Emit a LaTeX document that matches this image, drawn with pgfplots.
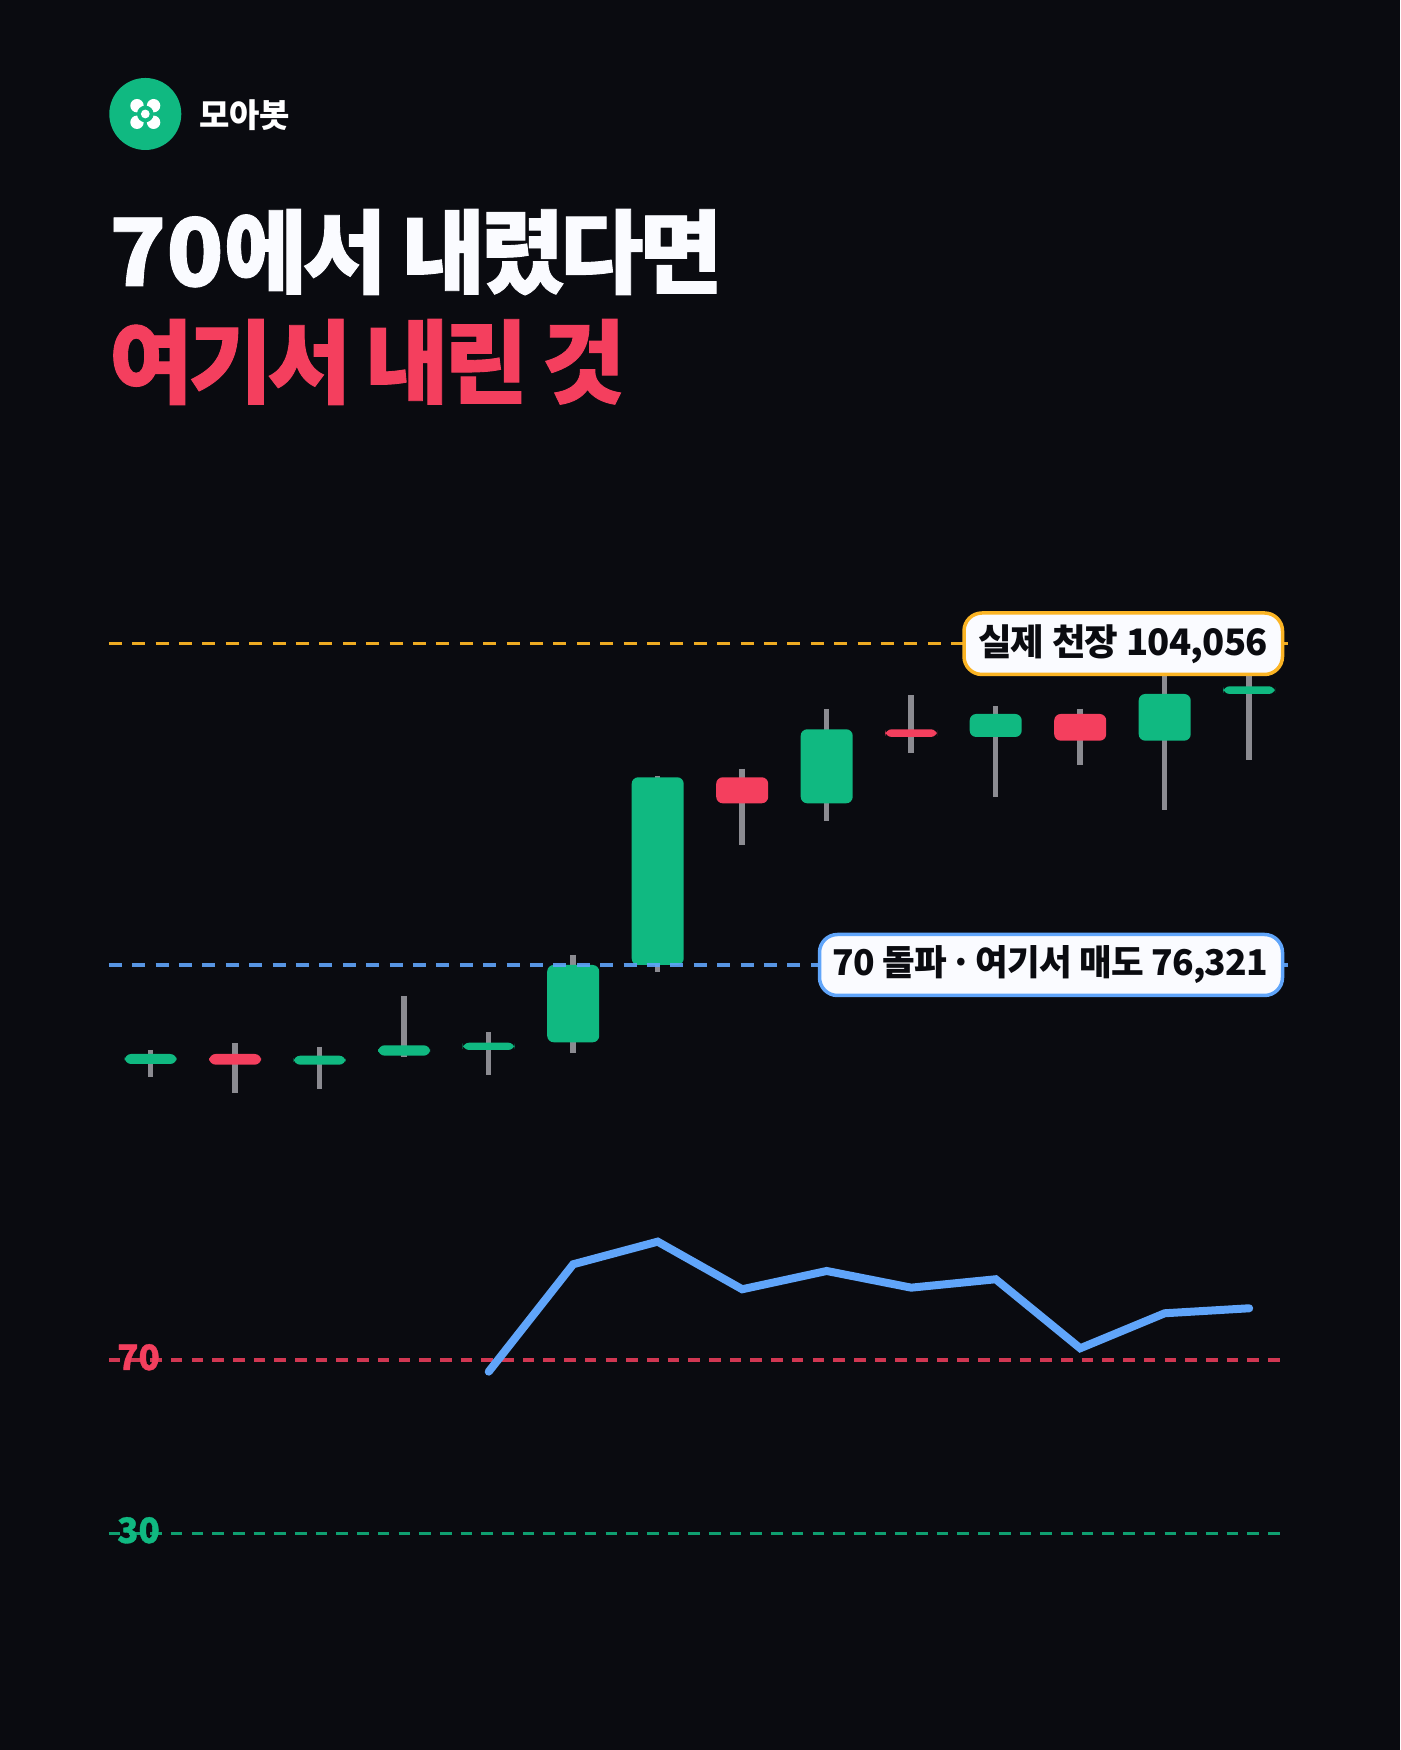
\documentclass[border=0pt]{standalone}
\usepackage{fontspec}
\usepackage{pgfplots}
\pgfplotsset{compat=1.18}
\setmainfont{Noto Sans CJK KR}
\newfontfamily\titlefont[LetterSpace=-5,WordSpace=0.7,BoldFeatures={FakeBold=1}]{Noto Sans CJK KR}
\newfontfamily\titlefontb[LetterSpace=-5,WordSpace=0.92,BoldFeatures={FakeBold=1}]{Noto Sans CJK KR}
\newfontfamily\digitfont[BoldFeatures={FakeBold=1}]{Noto Sans CJK KR}
\newfontfamily\labelfont[LetterSpace=-2]{Noto Sans CJK KR}
\newfontfamily\levelfont[BoldFeatures={FakeBold=1}]{Noto Sans CJK KR}
\definecolor{bg}{HTML}{0A0B10}
\definecolor{up}{HTML}{10B981}
\definecolor{down}{HTML}{F43F5E}
\definecolor{wick}{HTML}{8B8B91}
\definecolor{sky}{HTML}{60A5FA}
\definecolor{amber}{HTML}{FBB424}
\definecolor{paper}{HTML}{FAFBFF}
\pgfplotsset{page/.style={at={(0pt,0pt)},anchor=south west,scale only axis,width=1400pt,height=1750pt,hide axis,
  xmin=-1.7834,xmax=14.7846,clip=false}}
% i, left, right, body top, body bottom, high, low, colour
\newcommand{\candle}[8]{%
  \addplot[wick,line width=5.5pt,line cap=butt,forget plot] coordinates {(#1,#6) (#1,#7)};
  \addplot[#8,fill=#8,draw=none,rounded corners=6.5pt,forget plot] coordinates {(#1,#4) (#3,#4) (#3,#5) (#2,#5) (#2,#4) (#1,#4)};
}
\begin{document}
\begin{tikzpicture}
\useasboundingbox (0pt,0pt) rectangle (1400pt,1750pt);
\fill[bg] (0pt,0pt) rectangle (1400pt,1750pt);
% logo
\fill[up] (145.3pt,1636pt) circle (36pt);
\foreach \sx in {-1,1}{\foreach \sy in {-1,1}{\fill[white] (145.3pt+\sx*8.3pt,1636pt+\sy*8.3pt) circle (6.7pt);}}
\fill[up] (145.3pt,1636pt) circle (8.3pt);
\fill[white] (145.3pt,1636pt) circle (4.4pt);
\node[anchor=base west,inner sep=0pt,text=white] at (199pt,1622pt) {\fontsize{33}{33}\selectfont\bfseries 모아봇};
% title
\node[anchor=base west,inner sep=0pt,text=paper] at (109pt,1464pt) {\fontsize{94}{94}\digitfont\bfseries 70\fontsize{91}{91}\titlefont\bfseries 에서 내렸다면};
\node[anchor=base west,inner sep=0pt,text=down] at (109pt,1354pt) {\fontsize{91}{91}\titlefontb\bfseries 여기서 내린 것};
% RSI level labels
\node[anchor=base west,inner sep=0pt,text=down] at (117pt,380pt) {\fontsize{35}{35}\levelfont\bfseries 70};
\node[anchor=base west,inner sep=0pt,text=up] at (117pt,207pt) {\fontsize{35}{35}\levelfont\bfseries 30};
% price panel
\begin{axis}[page,ymin=8646.15,ymax=159513.65]
\candle{0}{-0.3077}{0.3077}{68648}{67786}{68993}{66691}{up}
\candle{1}{0.6923}{1.3077}{68648}{67726}{69571}{65260}{down}
\candle{2}{1.6923}{2.3077}{68502}{67726}{69278}{65605}{up}
\candle{3}{2.6923}{3.3077}{69398}{68502}{73648}{68416}{up}
\candle{4}{3.6923}{4.3077}{69623}{68993}{70519}{66838}{up}
\candle{5}{4.6923}{5.3077}{76321}{69657}{77183}{68709}{up}
\candle{6}{5.6923}{6.3077}{92503}{76321}{92641}{75718}{up}
\candle{7}{6.6923}{7.3077}{92503}{90261}{93244}{86666}{down}
\candle{8}{7.6923}{8.3077}{96641}{90261}{98391}{88709}{up}
\candle{9}{8.6923}{9.3077}{96641}{95977}{99572}{94572}{down}
\candle{10}{9.6923}{10.3077}{97960}{95977}{98623}{90778}{up}
\candle{11}{10.6923}{11.3077}{97960}{95658}{98417}{93563}{down}
\candle{12}{11.6923}{12.3077}{99684}{95658}{103477}{89684}{up}
\candle{13}{12.6923}{13.3077}{100348}{99684}{104056}{93994}{up}
\addplot[amber,opacity=.95,line width=3.5pt,dash pattern=on 13pt off 10.4pt,forget plot] coordinates {(-0.496,104056) (13.46,104056)};
\addplot[sky,opacity=.9,line width=3.5pt,dash pattern=on 13pt off 10.4pt,forget plot] coordinates {(-0.496,76321) (13.46,76321)};
\end{axis}
% RSI panel
\begin{axis}[page,ymin=-20.02,ymax=383.9]
\addplot[down,opacity=.85,line width=3.5pt,dash pattern=on 11.6pt off 9.1pt,forget plot] coordinates {(-0.496,70) (13.39,70)};
\addplot[up,opacity=.85,line width=3.5pt,dash pattern=on 11.6pt off 9.1pt,forget plot] coordinates {(-0.496,30) (13.39,30)};
\addplot[sky,line width=8pt,line cap=round,line join=miter,forget plot] coordinates {
(4,67.30) (5,92.09) (6,97.31) (7,86.32) (8,90.54) (9,86.69) (10,88.63) (11,72.70) (12,80.78) (13,81.93)};
\end{axis}
% callouts
\draw[amber,fill=paper,line width=3.5pt,rounded corners=18pt] (964pt,1137pt) rectangle (1282.5pt,1075.5pt);
\node[inner sep=0pt,text=bg] at (1123pt,1106pt) {\fontsize{36.5}{37}\labelfont\bfseries 실제 천장 104,056};
\draw[sky,fill=paper,line width=3.5pt,rounded corners=18pt] (819.5pt,815.5pt) rectangle (1282.5pt,754.5pt);
\node[inner sep=0pt,text=bg] at (1050.5pt,785pt) {\fontsize{35.5}{37}\labelfont\bfseries 70 돌파 \kern-0.12em·\kern-0.12em{} 여기서 매도 76,321};
\end{tikzpicture}
\end{document}
